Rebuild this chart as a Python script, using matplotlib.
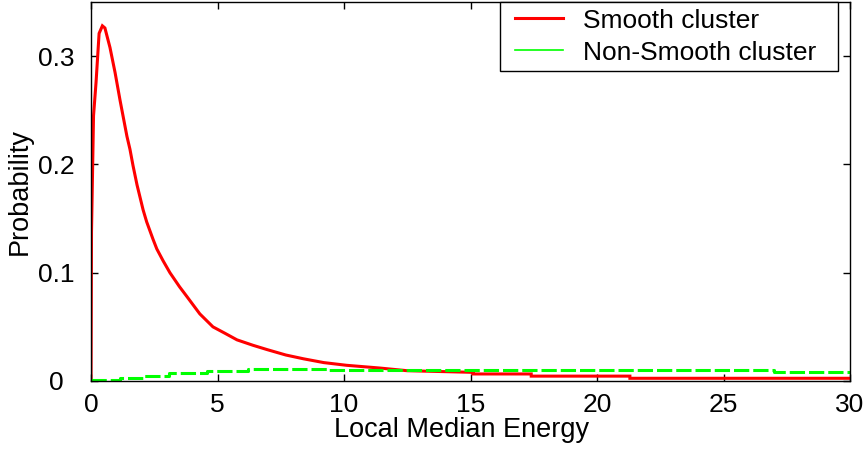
import matplotlib
matplotlib.use("Agg")
import matplotlib.pyplot as plt
from matplotlib.lines import Line2D
from matplotlib.legend_handler import HandlerLine2D

plt.rcParams['font.family'] = ['Liberation Sans', 'DejaVu Sans']

# Smooth cluster (red)
smooth_x = [0, 0.02, 0.1, 0.2, 0.32, 0.45, 0.55, 0.75, 0.95, 1.15, 1.42, 1.54, 1.66,
            1.82, 2.06, 2.2, 2.45, 2.6, 2.85, 3.12, 3.5, 3.79, 4.3, 4.82, 5.3, 5.77,
            6.4, 6.96, 7.7, 8.4, 9.2, 10.1, 11.4, 12.5, 15.1, 15.1, 17.4, 17.4,
            21.3, 21.3, 30]
smooth_y = [0, 0.138, 0.245, 0.276, 0.321, 0.328, 0.326, 0.308, 0.285, 0.259, 0.226,
            0.214, 0.199, 0.181, 0.158, 0.147, 0.131, 0.122, 0.111, 0.100, 0.087,
            0.078, 0.062, 0.050, 0.044, 0.038, 0.033, 0.029, 0.024, 0.0205, 0.017,
            0.0145, 0.012, 0.0095, 0.0080, 0.0065, 0.0065, 0.0045, 0.0045, 0.0025,
            0.0025]

# Non-Smooth cluster (green)
nonsmooth_x = [0, 1.15, 2.05, 3.1, 4.6, 6.2, 9.4, 27.0, 30]
nonsmooth_y = [0.001, 0.0028, 0.0046, 0.0071, 0.0093, 0.0110, 0.0102, 0.0083, 0.0083]

xticks = [0, 5, 10, 15, 20, 25, 30]
yticks = [0, 0.1, 0.2, 0.3]
ytick_labels = ['0', '0.1', '0.2', '0.3']
legend_labels = ['Smooth cluster  ', 'Non-Smooth cluster  ']

fig = plt.figure(figsize=(8.66, 4.49), dpi=100)
ax = fig.add_axes([91/866, 68/449, 759/866, 379/449])

ax.plot(smooth_x, smooth_y, color='#ff0000', lw=2.2, solid_joinstyle='miter')
ax.plot(nonsmooth_x, nonsmooth_y, color='#00ff00', lw=2.2, drawstyle='steps-post',
        dashes=[5, 1.3])

ax.set_xlim(0, 30)
ax.set_ylim(0, 0.35)
ax.set_xticks(xticks)
ax.set_xticklabels([str(t) for t in xticks])
ax.set_yticks(yticks)
ax.set_yticklabels(ytick_labels)
ax.tick_params(direction='in', length=5, width=1, top=True, right=True,
               labelsize=19, colors='black')
ax.tick_params(axis='x', pad=9)
ax.tick_params(axis='y', pad=25)
for lab in ax.get_yticklabels():
    lab.set_horizontalalignment('center')
for sp in ax.spines.values():
    sp.set_linewidth(1)
    sp.set_color('black')

ax.set_xlabel('Local Median Energy', fontsize=19.5)
ax.xaxis.set_label_coords((462 - 91) / 759, -0.095)
ax.set_ylabel('Probability', fontsize=19.5, labelpad=4)

handles = [Line2D([], [], color='#ff0000', lw=2.2),
           Line2D([], [], color='#00ff00', lw=1.2)]
hmap = {h: HandlerLine2D(marker_pad=0.32, numpoints=2) for h in handles}
leg = ax.legend(handles, legend_labels,
                loc='upper right', bbox_to_anchor=(747/759, 1.0),
                borderaxespad=0, fontsize=19, handlelength=2.46,
                handletextpad=0.44, labelspacing=0.3, borderpad=0.25,
                fancybox=False, framealpha=1, edgecolor='black',
                handler_map=hmap, numpoints=2)
leg.get_frame().set_linewidth(1)

fig.savefig('out.png', dpi=100)
